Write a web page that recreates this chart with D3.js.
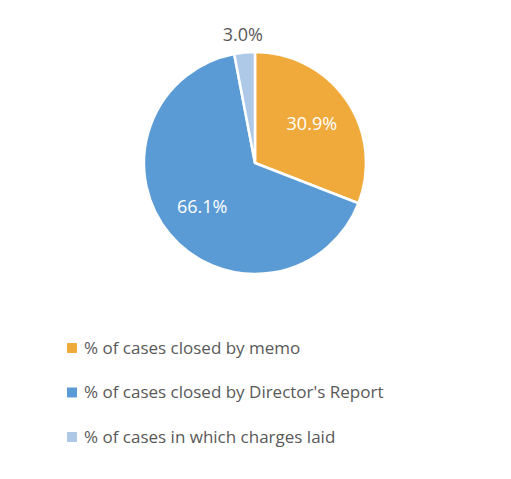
<!DOCTYPE html>
<html><head><meta charset="utf-8">
<script src="https://cdn.jsdelivr.net/npm/d3@7"></script>
<style>body{margin:0;background:#fff;}</style>
</head><body>
<script>
var categories = ["% of cases closed by memo", "% of cases closed by Director's Report", "% of cases in which charges laid"];
var values = [30.9, 66.1, 3.0];
var colors = ["#F0A93B", "#5B9BD5", "#AEC8E8"];

var width = 511, height = 479, cx = 255, cy = 163, r = 111;
var font = "'Open Sans', 'Liberation Sans', sans-serif";

var svg = d3.select("body").append("svg").attr("width", width).attr("height", height);
var g = svg.append("g").attr("transform", "translate(" + cx + "," + cy + ")");

var pie = d3.pie().sort(null).value(function(d) { return d; });
var arcs = pie(values);
var arc = d3.arc().innerRadius(0).outerRadius(r);
var labelArc = d3.arc().innerRadius(r * 0.62).outerRadius(r * 0.62);
var outArc = d3.arc().innerRadius(r + 18).outerRadius(r + 18);

g.selectAll("path").data(arcs).enter().append("path")
  .attr("d", arc)
  .attr("fill", function(d, i) { return colors[i]; })
  .attr("stroke", "#fff").attr("stroke-width", 2.5);

g.selectAll("text").data(arcs).enter().append("text")
  .attr("transform", function(d) {
    var c = d.data < 5 ? outArc.centroid(d) : labelArc.centroid(d);
    return "translate(" + c + ")";
  })
  .attr("dy", "0.35em").attr("text-anchor", "middle")
  .style("font-family", font).style("font-size", "18px")
  .attr("fill", function(d) { return d.data < 5 ? "#595959" : "#fff"; })
  .text(function(d) { return d.data.toFixed(1) + "%"; });

var legend = svg.selectAll(".leg").data(categories).enter().append("g")
  .attr("class", "leg")
  .attr("transform", function(d, i) { return "translate(67," + (348 + i * 44.5) + ")"; });
legend.append("rect").attr("x", 0).attr("y", -5).attr("width", 10).attr("height", 10)
  .attr("fill", function(d, i) { return colors[i]; });
legend.append("text").attr("x", 17).attr("dy", "0.35em")
  .style("font-family", font).style("font-size", "17px").attr("fill", "#595959")
  .text(function(d) { return d; });
</script>
</body></html>
